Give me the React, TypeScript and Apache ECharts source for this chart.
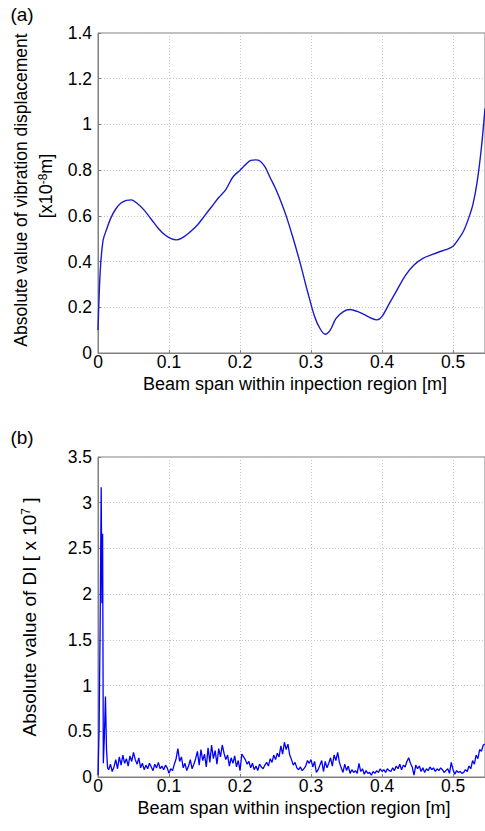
import React, { useEffect, useRef } from "react";
import * as echarts from "echarts";

// ---- (a) vibration displacement curve ----
const topX = [0, 0.003, 0.007, 0.012, 0.018, 0.025, 0.032, 0.04, 0.047, 0.055, 0.065, 0.075, 0.085, 0.095, 0.103, 0.11, 0.118, 0.128, 0.14, 0.15, 0.16, 0.17, 0.18, 0.19, 0.2, 0.208, 0.215, 0.222, 0.228, 0.235, 0.242, 0.25, 0.258, 0.265, 0.275, 0.285, 0.295, 0.305, 0.313, 0.32, 0.327, 0.335, 0.345, 0.355, 0.365, 0.375, 0.385, 0.393, 0.4, 0.41, 0.42, 0.433, 0.445, 0.457, 0.47, 0.48, 0.49, 0.5, 0.507, 0.515, 0.522, 0.528, 0.534, 0.54, 0.545];
const topY = [0.1, 0.35, 0.49, 0.54, 0.59, 0.63, 0.655, 0.668, 0.67, 0.655, 0.625, 0.585, 0.545, 0.515, 0.5, 0.495, 0.503, 0.525, 0.56, 0.6, 0.64, 0.68, 0.715, 0.77, 0.8, 0.825, 0.843, 0.845, 0.84, 0.815, 0.77, 0.72, 0.66, 0.6, 0.5, 0.39, 0.27, 0.16, 0.105, 0.082, 0.1, 0.15, 0.18, 0.19, 0.182, 0.168, 0.152, 0.145, 0.16, 0.215, 0.27, 0.34, 0.385, 0.413, 0.43, 0.442, 0.452, 0.467, 0.495, 0.535, 0.59, 0.65, 0.75, 0.9, 1.07];

// ---- (b) damage index ----
const spikeX = [0, 0.0015, 0.003, 0.0045, 0.0055, 0.0065, 0.0075, 0.009, 0.0105, 0.012, 0.0135];
const spikeY = [0.02, 0.5, 1.65, 3.17, 1.9, 2.66, 0.15, 0.45, 0.88, 0.3, 0.1];
const NOISE_START = 0.015;
const NOISE_STEP = 0.0025;
const noiseY = [
  0.08, 0.14, 0.06, 0.11, 0.19, 0.09, 0.22, 0.13, 0.24, 0.15,
  0.20, 0.12, 0.23, 0.17, 0.27, 0.19, 0.14, 0.21, 0.10, 0.15,
  0.08, 0.13, 0.09, 0.15, 0.11, 0.07, 0.14, 0.10, 0.16, 0.09,
  0.12, 0.08, 0.13, 0.10, 0.04, 0.09, 0.07, 0.14, 0.20, 0.31,
  0.17, 0.22, 0.10, 0.15, 0.07, 0.12, 0.19, 0.09, 0.14, 0.20,
  0.28, 0.13, 0.30, 0.18, 0.25, 0.11, 0.32, 0.16, 0.35, 0.20,
  0.29, 0.14, 0.31, 0.22, 0.35, 0.26, 0.19, 0.24, 0.12, 0.21,
  0.15, 0.23, 0.11, 0.18, 0.07, 0.25, 0.22, 0.19, 0.14, 0.17,
  0.10, 0.15, 0.08, 0.12, 0.07, 0.14, 0.11, 0.09, 0.13, 0.16,
  0.12, 0.20, 0.16, 0.24, 0.19, 0.26, 0.22, 0.34, 0.25, 0.38,
  0.30, 0.36, 0.24, 0.19, 0.13, 0.16, 0.10, 0.08, 0.11, 0.07,
  0.09, 0.12, 0.18, 0.15, 0.19, 0.11, 0.17, 0.05, 0.08, 0.13,
  0.18, 0.06, 0.17, 0.10, 0.15, 0.21, 0.12, 0.24, 0.18, 0.27,
  0.16, 0.10, 0.05, 0.14, 0.07, 0.12, 0.04, 0.08, 0.05, 0.07,
  0.04, 0.15, 0.06, 0.09, 0.03, 0.07, 0.04, 0.05, 0.02, 0.06,
  0.04, 0.07, 0.05, 0.09, 0.06, 0.08, 0.05, 0.09, 0.07, 0.06,
  0.10, 0.07, 0.12, 0.09, 0.14, 0.08, 0.13, 0.11, 0.17, 0.21,
  0.15, 0.11, 0.02, 0.13, 0.09, 0.12, 0.06, 0.10, 0.05, 0.09,
  0.07, 0.11, 0.08, 0.10, 0.06, 0.09, 0.07, 0.10, 0.08, 0.05,
  0.07, 0.09, 0.04, 0.16, 0.08, 0.03, 0.07, 0.05, 0.06, 0.04,
  0.05, 0.08, 0.06, 0.12, 0.09, 0.18, 0.14, 0.24, 0.20, 0.30,
  0.28, 0.35, 0.36,
];

const xTicks = [0, 0.1, 0.2, 0.3, 0.4, 0.5];
const X_MAX = 0.545;
const topYMax = 1.4;
const topYStep = 0.2;
const botYMax = 3.5;
const botYStep = 0.5;

const FONT = '"Liberation Sans", Arial, sans-serif';
const AXIS_COLOR = "#808080";
const GRID_COLOR = "#c4c4c4";
const TICK_FS = 17.5;

function makeX(gridIndex: number) {
  return {
    type: "value" as const,
    gridIndex,
    min: 0,
    max: X_MAX,
    interval: 0.1,
    axisLine: { show: true, lineStyle: { color: AXIS_COLOR, width: 1 } },
    axisTick: { show: true, inside: true, length: 3, lineStyle: { color: AXIS_COLOR } },
    axisLabel: {
      color: "#000",
      fontSize: TICK_FS,
      fontFamily: FONT,
      margin: 0,
      showMaxLabel: false,
      formatter: (v: number) => {
        const hit = xTicks.find((t) => Math.abs(t - v) < 1e-9);
        return hit === undefined ? "" : String(hit);
      },
    },
    splitLine: { show: true, lineStyle: { color: GRID_COLOR, type: [1, 2] as any, width: 1 } },
  };
}

function makeY(gridIndex: number, max: number, step: number) {
  return {
    type: "value" as const,
    gridIndex,
    min: 0,
    max,
    interval: step,
    axisLine: { show: true, lineStyle: { color: AXIS_COLOR, width: 1 } },
    axisTick: { show: true, inside: true, length: 3, lineStyle: { color: AXIS_COLOR } },
    axisLabel: {
      color: "#000",
      fontSize: TICK_FS,
      fontFamily: FONT,
      margin: 6,
      formatter: (v: number) => String(parseFloat(v.toFixed(2))),
    },
    splitLine: { show: true, lineStyle: { color: GRID_COLOR, type: [1, 2] as any, width: 1 } },
  };
}

export default function App() {
  const ref = useRef<HTMLDivElement>(null);
  useEffect(() => {
    if (!ref.current) return;
    const chart = echarts.init(ref.current, undefined, { renderer: "svg" });

    const topData = topX.map((x, i) => [x, topY[i]]);
    const botData = [
      ...spikeX.map((x, i) => [x, spikeY[i]]),
      ...noiseY.map((v, i) => [NOISE_START + i * NOISE_STEP, v]),
    ];

    const text = (x: number, y: number, s: string, extra: any = {}, rotation = 0) => ({
      type: "text",
      x,
      y,
      rotation,
      style: {
        text: s,
        fontSize: 18,
        fontFamily: FONT,
        fill: "#000",
        align: "center",
        verticalAlign: "middle",
        ...extra,
      },
    });

    const sup = { sup: { fontSize: 12, fontFamily: FONT, verticalAlign: "top", fill: "#000" } };

    chart.setOption({
      animation: false,
      backgroundColor: "#fff",
      grid: [
        { left: 98, top: 33, width: 388, height: 320, show: true, borderColor: AXIS_COLOR, borderWidth: 1 },
        { left: 98, top: 457, width: 388, height: 320, show: true, borderColor: AXIS_COLOR, borderWidth: 1 },
      ],
      xAxis: [makeX(0), makeX(1)],
      yAxis: [makeY(0, topYMax, topYStep), makeY(1, botYMax, botYStep)],
      series: [
        {
          type: "line",
          xAxisIndex: 0,
          yAxisIndex: 0,
          data: topData,
          showSymbol: false,
          smooth: 0.3,
          lineStyle: { color: "#1a1acd", width: 1.4 },
        },
        {
          type: "line",
          xAxisIndex: 1,
          yAxisIndex: 1,
          data: botData,
          showSymbol: false,
          lineStyle: { color: "#0000ff", width: 1.3 },
        },
      ],
      graphic: [
        text(22, 14, "(a)", { fontSize: 19 }),
        text(22, 437, "(b)", { fontSize: 19 }),
        text(295, 384, "Beam span within inpection region [m]"),
        text(294, 808, "Beam span within inspection region [m]"),
        text(21, 190, "Absolute value of vibration displacement", { fontSize: 17.5 }, Math.PI / 2),
        text(46, 186, "[x10{sup|-8}m]", { fontSize: 18, rich: sup }, Math.PI / 2),
        text(29, 617, "Absolute value of DI [ x 10{sup|7} ]", { fontSize: 19, rich: sup }, Math.PI / 2),
      ],
    });
    return () => chart.dispose();
  }, []);
  return (
    <div
      ref={ref}
      style={{ position: "absolute", left: 0, top: 0, width: 485, height: 831, background: "#fff" }}
    />
  );
}
